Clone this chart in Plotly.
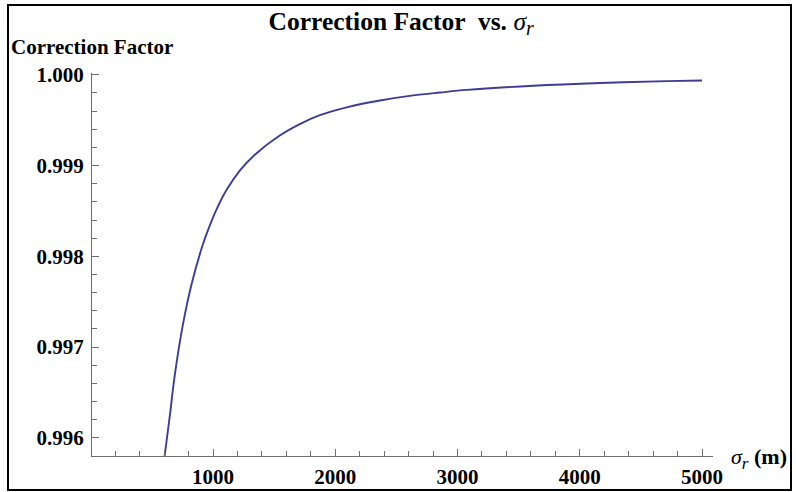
import plotly.graph_objects as go

# Values
sigma_r = [604, 645, 686, 754, 823, 918, 965, 1028, 1110, 1219, 1342, 1546,
           1710, 1874, 2093, 2366, 2638, 2857, 3075, 3621, 4167, 4713, 5000]
factor = [0.99580, 0.996225, 0.996680, 0.997250, 0.997685, 0.998135, 0.998310,
          0.998515, 0.998730, 0.998945, 0.999120, 0.999331, 0.999457, 0.999555,
          0.999642, 0.999717, 0.999773, 0.999805, 0.999834, 0.999880, 0.999910,
          0.999930, 0.999937]

x_ticks = [1000, 2000, 3000, 4000, 5000]
x_tick_labels = ["1000", "2000", "3000", "4000", "5000"]
y_ticks = [0.996, 0.997, 0.998, 0.999, 1.000]
y_tick_labels = ["0.996", "0.997", "0.998", "0.999", "1.000"]

FONT = "Liberation Serif"
AXIS_COLOR = "#6e6e6e"
LINE_COLOR = "#3d3d99"

fig = go.Figure()
fig.add_trace(go.Scatter(
    x=sigma_r, y=factor, mode="lines",
    line=dict(color=LINE_COLOR, width=1.9, shape="spline", smoothing=1.0),
    hoverinfo="skip", showlegend=False,
))

tickfont = dict(family=FONT, size=21, color="black", weight="bold")

fig.update_layout(
    width=796, height=492,
    margin=dict(l=92, r=83, t=73, b=36, autoexpand=False),
    paper_bgcolor="white", plot_bgcolor="white",
    showlegend=False,
    title=dict(
        text=("<b>Correction Factor \u00a0vs. </b><i>σ</i>"
              "<sub><i><span style=\"font-size:20px\">r</span></i></sub>"),
        font=dict(family=FONT, size=25.5, color="black", weight="normal"),
        xref="container", yref="container",
        x=0.504, y=1 - 21 / 492, xanchor="center", yanchor="middle",
    ),
    xaxis=dict(
        range=[10, 5090], showgrid=False, zeroline=False,
        showline=True, linecolor=AXIS_COLOR, linewidth=1.3,
        tickvals=x_ticks, ticktext=x_tick_labels,
        ticks="inside", ticklen=7, tickwidth=1, tickcolor=AXIS_COLOR,
        tickfont=tickfont, ticklabelstandoff=2,
        minor=dict(dtick=200, tick0=0, ticks="inside", ticklen=4.5,
                   tickwidth=1, tickcolor=AXIS_COLOR, showgrid=False),
    ),
    yaxis=dict(
        range=[0.9958, 1.00002], showgrid=False, zeroline=False,
        showline=True, linecolor=AXIS_COLOR, linewidth=1.3,
        tickvals=y_ticks, ticktext=y_tick_labels,
        ticks="inside", ticklen=7, tickwidth=1, tickcolor=AXIS_COLOR,
        tickfont=tickfont, ticklabelstandoff=3,
        minor=dict(dtick=0.0002, tick0=0.996, ticks="inside", ticklen=4.5,
                   tickwidth=1, tickcolor=AXIS_COLOR, showgrid=False),
    ),
    annotations=[
        dict(text="<b>Correction Factor</b>", xref="paper", yref="paper",
             x=(9 - 92) / 621, y=(456 - 47) / 383, xanchor="left", yanchor="middle",
             showarrow=False, font=dict(family=FONT, size=21, color="black")),
        dict(text=("<i>σ</i><sub><i><span style=\"font-size:17px\">r</span></i></sub>"
                   "<b> (m)</b>"),
             xref="paper", yref="paper",
             x=(729 - 92) / 621, y=(456 - 458) / 383, xanchor="left", yanchor="middle",
             showarrow=False, font=dict(family=FONT, size=22, color="black")),
    ],
    shapes=[
        dict(type="rect", xref="paper", yref="paper",
             x0=(8 - 92) / 621, x1=(791 - 92) / 621,
             y0=(456 - 490) / 383, y1=(456 - 5) / 383,
             line=dict(color="black", width=2), fillcolor="rgba(0,0,0,0)", layer="below"),
    ],
)

fig.write_html(
    "out.html",
    config={"displayModeBar": False},
    post_script="document.body.style.margin='0';document.body.style.overflow='hidden';",
)
